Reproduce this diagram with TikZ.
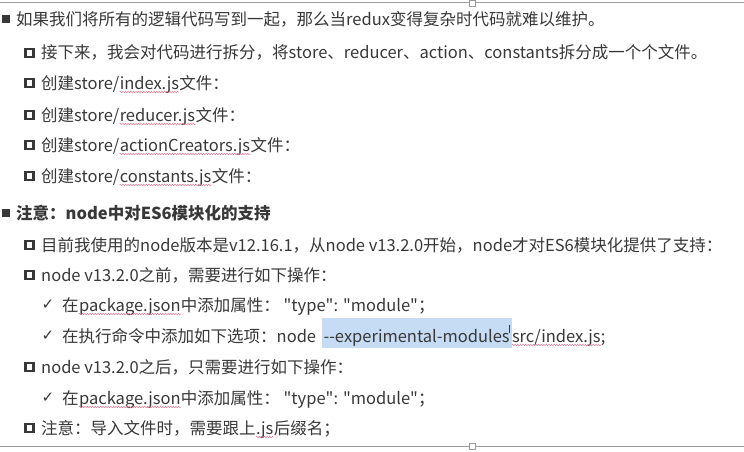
\documentclass[tikz,border=0pt]{standalone}
\usepackage{fontspec}
\setmainfont{Noto Sans CJK SC}[Ligatures=TeXOff]
\newfontfamily\symfont{DejaVu Sans}
\usetikzlibrary{decorations.pathmorphing}

\definecolor{txtgray}{HTML}{383838}
\definecolor{framegray}{HTML}{9A9A9A}
\definecolor{selblue}{HTML}{C5DCF4}
\definecolor{squigred}{HTML}{E07A95}

\tikzset{
  line/.style={anchor=base west, inner sep=0pt, text=txtgray, font=\fontsize{16.5}{20}\selectfont},
  headline/.style={line, font=\fontsize{16.5}{20}\selectfont\bfseries},
  fullbox/.style={fill=txtgray, minimum size=8pt, inner sep=0pt},
  openbox/.style={draw=txtgray, line width=2.2pt, minimum size=8pt, inner sep=0pt},
  tick/.style={text=txtgray, inner sep=0pt, font=\symfont\fontsize{15}{15}\selectfont},
  squig/.style={draw=squigred, line width=0.5pt, decorate, decoration={snake, amplitude=0.7pt, segment length=2.6pt}},
  handle/.style={draw=framegray, fill=white, line width=0.8pt, minimum size=6pt, inner sep=0pt},
}

\begin{document}
\begin{tikzpicture}[x=1pt, y=-1pt]
    \useasboundingbox (0,0) rectangle (744,452);
    \fill[white] (0,0) rectangle (744,452);

    % frame of the text box
    \draw[framegray, line width=1pt] (0,3) -- (744,3);
    \draw[framegray, line width=1pt] (0,446) -- (744,446);
    \node[handle] (htop) at (472,3) {};
    \node[handle] (hbot) at (472,446.5) {};

    % first block
    \node[fullbox] (b1) at (5.5,19) {};
    \node[line] (t1) at (16,26) {如果我们将所有的逻辑代码写到一起，那么当redux变得复杂时代码就难以维护。};

    \node[openbox] (b2) at (29.5,53) {};
    \node[line] (t2) at (41,59) {接下来，我会对代码进行拆分，将store、reducer、action、constants拆分成一个个文件。};

    \node[openbox] (b3) at (29.5,83) {};
    \node[line] (t3a) at (41,89) {创建store/};
    \node[line] (t3b) at (t3a.base east) {index.js};
    \node[line] (t3c) at (t3b.base east) {文件：};
    \draw[squig] ([yshift=-3pt]t3b.base west) -- ([yshift=-3pt]t3b.base east);

    \node[openbox] (b4) at (29.5,115) {};
    \node[line] (t4a) at (41,121) {创建store/};
    \node[line] (t4b) at (t4a.base east) {reducer.js};
    \node[line] (t4c) at (t4b.base east) {文件：};
    \draw[squig] ([yshift=-3pt]t4b.base west) -- ([yshift=-3pt]t4b.base east);

    \node[openbox] (b5) at (29.5,145) {};
    \node[line] (t5a) at (41,151) {创建store/};
    \node[line] (t5b) at (t5a.base east) {actionCreators.js};
    \node[line] (t5c) at (t5b.base east) {文件：};
    \draw[squig] ([yshift=-3pt]t5b.base west) -- ([yshift=-3pt]t5b.base east);

    \node[openbox] (b6) at (29.5,176) {};
    \node[line] (t6a) at (41,182) {创建store/};
    \node[line] (t6b) at (t6a.base east) {constants.js};
    \node[line] (t6c) at (t6b.base east) {文件：};
    \draw[squig] ([yshift=-3pt]t6b.base west) -- ([yshift=-3pt]t6b.base east);

    % second block
    \node[fullbox] (b7) at (5.5,213) {};
    \node[headline] (t7) at (16,219) {注意：node中对ES6模块化的支持};

    \node[openbox] (b8) at (29.5,245) {};
    \node[line] (t8) at (41,251) {目前我使用的node版本是v12.16.1，从node v13.2.0开始，node才对ES6模块化提供了支持：};

    \node[openbox] (b9) at (29.5,275) {};
    \node[line] (t9) at (41,281) {node v13.2.0之前，需要进行如下操作：};

    \node[tick] (c10) at (48,305) {✓};
    \node[line] (t10a) at (62,311) {在};
    \node[line] (t10b) at (t10a.base east) {package.json};
    \node[line] (t10c) at (t10b.base east) {中添加属性： "type": "module"；};
    \draw[squig] ([yshift=-3pt]t10b.base west) -- ([yshift=-3pt]t10b.base east);

    \node[tick] (c11) at (48,336) {✓};
    \node[line] (t11a) at (62,342) {在执行命令中添加如下选项：node};
    \node[line, fill=selblue, text height=24pt, text depth=6pt, inner xsep=2pt] (t11b)
        at ([xshift=5pt]t11a.base east) {--experimental-modules\hspace{6pt}};
    \node[line] (t11c) at (t11b.base east) {src/index.js};
    \node[line] (t11d) at (t11c.base east) {;};
    \draw[squig] ([yshift=-3pt]t11c.base west) -- ([yshift=-3pt]t11c.base east);
    % text cursor
    \draw[txtgray, line width=0.6pt] ([xshift=-3pt,yshift=17pt]t11b.base east) -- ++(0,-8pt);

    \node[openbox] (b12) at (29.5,367) {};
    \node[line] (t12) at (41,373) {node v13.2.0之后，只需要进行如下操作：};

    \node[tick] (c13) at (48,398) {✓};
    \node[line] (t13a) at (62,404) {在};
    \node[line] (t13b) at (t13a.base east) {package.json};
    \node[line] (t13c) at (t13b.base east) {中添加属性： "type": "module"；};
    \draw[squig] ([yshift=-3pt]t13b.base west) -- ([yshift=-3pt]t13b.base east);

    \node[openbox] (b14) at (29.5,428) {};
    \node[line] (t14a) at (41,434) {注意：导入文件时，需要跟上};
    \node[line] (t14b) at (t14a.base east) {.js};
    \node[line] (t14c) at (t14b.base east) {后缀名；};
    \draw[squig] ([yshift=-3pt]t14b.base west) -- ([yshift=-3pt]t14b.base east);
\end{tikzpicture}
\end{document}
